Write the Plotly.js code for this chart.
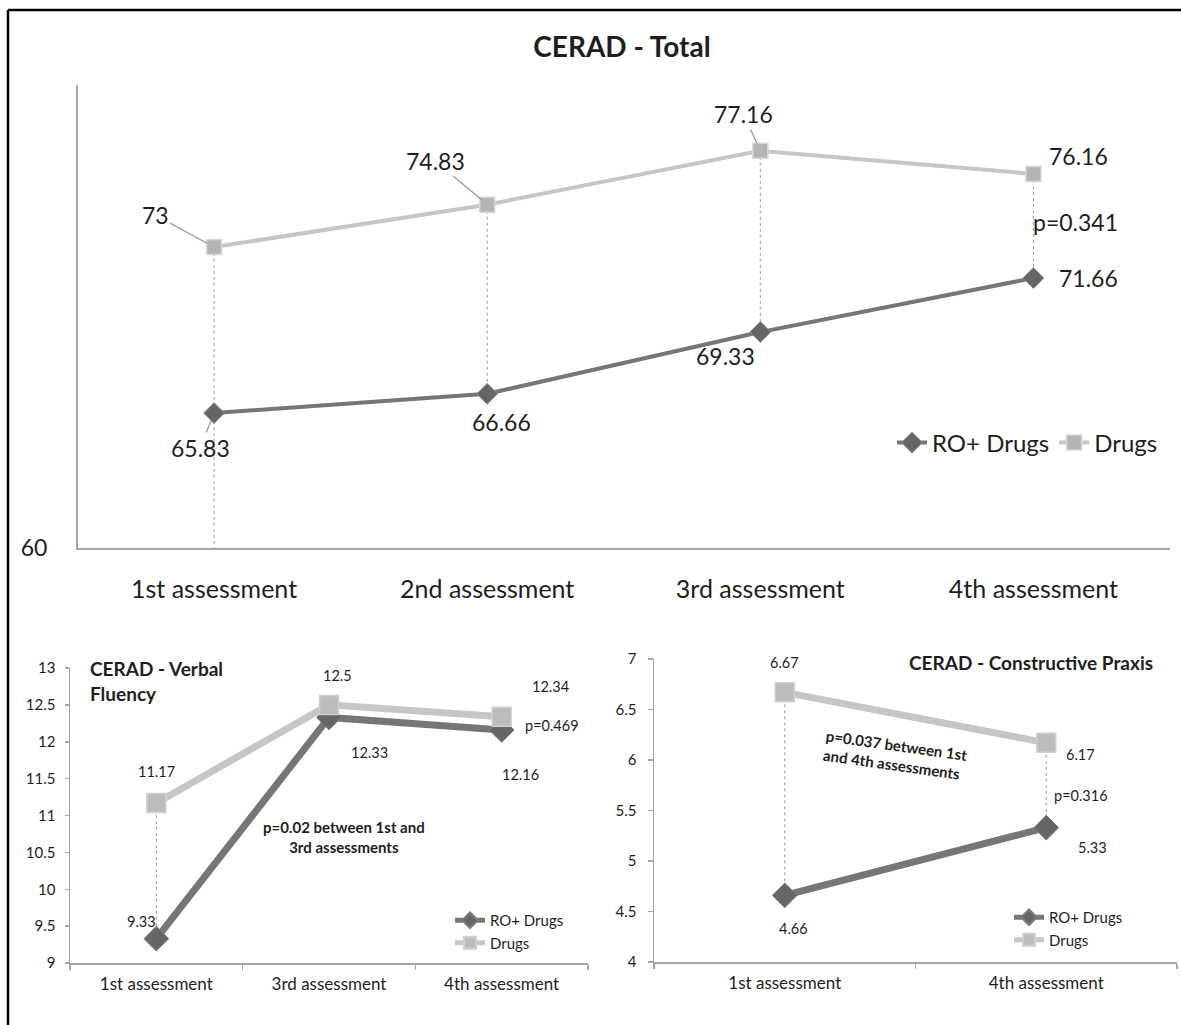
<!DOCTYPE html>
<html>
<head>
<meta charset="utf-8">
<script src="https://cdn.plot.ly/plotly-3.0.1.min.js"></script>
<style>
  html, body { margin: 0; padding: 0; background: #ffffff; }
  #chart { width: 1181px; height: 1025px; }
</style>
</head>
<body>
<div id="chart"></div>
<script>
// ---------------- DATA ----------------
const seriesNames = ['RO+ Drugs', 'Drugs'];

const totalTitle = 'CERAD - Total';
const totalCats = ['1st assessment', '2nd assessment', '3rd assessment', '4th assessment'];
const totalRO = [65.83, 66.66, 69.33, 71.66];
const totalDrugs = [73, 74.83, 77.16, 76.16];
const totalP = 'p=0.341';
const totalYTicks = [60];

const vfTitle = 'CERAD - Verbal<br>Fluency';
const vfCats = ['1st assessment', '3rd assessment', '4th assessment'];
const vfRO = [9.33, 12.33, 12.16];
const vfDrugs = [11.17, 12.5, 12.34];
const vfP = 'p=0.469';
const vfNote = 'p=0.02 between 1st and<br>3rd assessments';

const cpTitle = 'CERAD - Constructive Praxis';
const cpCats = ['1st assessment', '4th assessment'];
const cpRO = [4.66, 5.33];
const cpDrugs = [6.67, 6.17];
const cpP = 'p=0.316';
const cpNote = 'p=0.037 between 1st<br>and 4th assessments';

// ---------------- STYLE / LAYOUT HELPERS ----------------
const W = 1181, H = 1025;
const FONT = 'Lato, "Open Sans", "Liberation Sans", sans-serif';
const TXT = '#1e1e1e';
const AXC = '#a6a6a6';
const dark = '#767676', darkMk = '#666666';
const light = '#c6c6c6', lightMk = '#b4b4b4';

const px = v => v / W;
const py = v => 1 - v / H;

// label pixel offsets (ax, ay) per point, and whether a leader line is drawn
const totalROOff = [[-14, 35, true], [14, 28, false], [-35, 24, false], [55, 0, false]];
const totalDrOff = [[-59, -32, true], [-52, -44, true], [-17, -37, true], [45, -18, false]];
const vfROOff = [[-15, -17], [40, 35], [19, 45]];
const vfDrOff = [[0, -31], [8, -29], [49, -30]];
const cpROOff = [[9, 33], [46, 20]];
const cpDrOff = [[0, -30], [34, 12]];

const fmt = v => String(v);

const traces = [];
const annotations = [];
const shapes = [];

function addLabels(cats, vals, offs, xr, yr, size, leader) {
  vals.forEach((v, i) => {
    const o = offs[i];
    const lead = leader && o[2];
    annotations.push({
      x: cats[i], y: v, xref: xr, yref: yr,
      text: fmt(v), showarrow: true,
      ax: o[0], ay: o[1], axref: 'pixel', ayref: 'pixel',
      arrowhead: 0, arrowwidth: lead ? 1.3 : 0.1,
      arrowcolor: lead ? '#9a9a9a' : 'rgba(0,0,0,0)',
      standoff: 8,
      font: { family: FONT, size: size, color: TXT }
    });
  });
}

function addDrops(cats, hi, lo, xr, yr, firstToBase, base) {
  cats.forEach((c, i) => {
    shapes.push({
      type: 'line', xref: xr, yref: yr,
      x0: c, x1: c,
      y0: hi[i], y1: (firstToBase && i === 0) ? base : lo[i],
      line: { color: '#9b9b9b', width: 1, dash: 'dot' },
      layer: 'below'
    });
  });
}

// ---------------- TOP CHART ----------------
traces.push({
  type: 'scatter', mode: 'lines+markers', name: seriesNames[0],
  x: totalCats, y: totalRO, xaxis: 'x', yaxis: 'y',
  line: { color: dark, width: 4 },
  marker: { symbol: 'diamond', size: 16, color: darkMk, line: { color: '#8a8a8a', width: 1 } },
  legend: 'legend', legendgroup: 'a'
});
traces.push({
  type: 'scatter', mode: 'lines+markers', name: seriesNames[1],
  x: totalCats, y: totalDrugs, xaxis: 'x', yaxis: 'y',
  line: { color: light, width: 4 },
  marker: { symbol: 'square', size: 15, color: lightMk, line: { color: '#d8d8d8', width: 1.5 } },
  legend: 'legend', legendgroup: 'b'
});
addDrops(totalCats, totalDrugs, totalRO, 'x', 'y', true, 60);
addLabels(totalCats, totalRO, totalROOff, 'x', 'y', 23, true);
addLabels(totalCats, totalDrugs, totalDrOff, 'x', 'y', 23, true);
annotations.push({
  x: totalCats[3], y: (totalDrugs[3] + totalRO[3]) / 2, xref: 'x', yref: 'y',
  text: totalP, showarrow: false, xanchor: 'left', yanchor: 'middle', xshift: -2, yshift: 4,
  font: { family: FONT, size: 23, color: TXT }
});

// ---------------- BOTTOM LEFT ----------------
traces.push({
  type: 'scatter', mode: 'lines+markers', name: seriesNames[0],
  x: vfCats, y: vfRO, xaxis: 'x2', yaxis: 'y2',
  line: { color: dark, width: 7 },
  marker: { symbol: 'diamond', size: 19, color: darkMk, line: { color: '#7a7a7a', width: 1 } },
  legend: 'legend2', legendgroup: 'c'
});
traces.push({
  type: 'scatter', mode: 'lines+markers', name: seriesNames[1],
  x: vfCats, y: vfDrugs, xaxis: 'x2', yaxis: 'y2',
  line: { color: light, width: 7 },
  marker: { symbol: 'square', size: 19, color: '#bcbcbc', line: { color: '#d0d0d0', width: 1.5 } },
  legend: 'legend2', legendgroup: 'd'
});
addDrops(vfCats, vfDrugs, vfRO, 'x2', 'y2', false, 9);
addLabels(vfCats, vfRO, vfROOff, 'x2', 'y2', 14.5, false);
addLabels(vfCats, vfDrugs, vfDrOff, 'x2', 'y2', 14.5, false);
annotations.push({
  x: vfCats[2], y: (vfDrugs[2] + vfRO[2]) / 2, xref: 'x2', yref: 'y2',
  text: vfP, showarrow: false, xanchor: 'left', yanchor: 'middle', xshift: 21, yshift: -2,
  font: { family: FONT, size: 14.5, color: TXT }
});
annotations.push({
  x: px(344), y: py(837), xref: 'paper', yref: 'paper',
  xanchor: 'center', yanchor: 'middle',
  text: '<b>' + vfNote + '</b>', showarrow: false, align: 'center',
  font: { family: FONT, size: 15, color: TXT }
});
annotations.push({
  x: px(88), y: py(681), xref: 'paper', yref: 'paper',
  text: '<b>' + vfTitle + '</b>', showarrow: false, align: 'left',
  xanchor: 'left', yanchor: 'middle',
  font: { family: FONT, size: 19, color: TXT }
});

// ---------------- BOTTOM RIGHT ----------------
traces.push({
  type: 'scatter', mode: 'lines+markers', name: seriesNames[0],
  x: cpCats, y: cpRO, xaxis: 'x3', yaxis: 'y3',
  line: { color: dark, width: 7 },
  marker: { symbol: 'diamond', size: 19, color: darkMk, line: { color: '#7a7a7a', width: 1 } },
  legend: 'legend3', legendgroup: 'e'
});
traces.push({
  type: 'scatter', mode: 'lines+markers', name: seriesNames[1],
  x: cpCats, y: cpDrugs, xaxis: 'x3', yaxis: 'y3',
  line: { color: light, width: 7 },
  marker: { symbol: 'square', size: 19, color: '#bcbcbc', line: { color: '#d0d0d0', width: 1.5 } },
  legend: 'legend3', legendgroup: 'f'
});
addDrops(cpCats, cpDrugs, cpRO, 'x3', 'y3', false, 4);
addLabels(cpCats, cpRO, cpROOff, 'x3', 'y3', 14.5, false);
addLabels(cpCats, cpDrugs, cpDrOff, 'x3', 'y3', 14.5, false);
annotations.push({
  x: cpCats[1], y: (cpDrugs[1] + cpRO[1]) / 2, xref: 'x3', yref: 'y3',
  text: cpP, showarrow: false, xanchor: 'left', yanchor: 'middle', xshift: 6, yshift: -10,
  font: { family: FONT, size: 14.5, color: TXT }
});
annotations.push({
  x: px(895), y: py(755), xref: 'paper', yref: 'paper',
  xanchor: 'center', yanchor: 'middle',
  text: '<b>' + cpNote + '</b>', showarrow: false, align: 'left', textangle: 8,
  font: { family: FONT, size: 15, color: TXT }
});
annotations.push({
  x: px(1155), y: py(662), xref: 'paper', yref: 'paper',
  text: '<b>' + cpTitle + '</b>', showarrow: false, xanchor: 'right', yanchor: 'middle',
  font: { family: FONT, size: 19, color: TXT }
});

// ---------------- OUTER FRAME ----------------
shapes.push({ type: 'line', xref: 'paper', yref: 'paper', x0: px(8), x1: px(8), y0: py(10), y1: 0,
  line: { color: '#000', width: 2.5 } });
shapes.push({ type: 'line', xref: 'paper', yref: 'paper', x0: px(8), x1: 1, y0: py(10), y1: py(10),
  line: { color: '#000', width: 2.5 } });

// ---------------- AXES ----------------
const baseFont = (s) => ({ family: FONT, size: s, color: TXT });

const layout = {
  width: W, height: H,
  margin: { l: 0, r: 0, t: 0, b: 0 },
  paper_bgcolor: '#ffffff', plot_bgcolor: 'rgba(0,0,0,0)',
  font: { family: FONT, color: TXT },
  title: {
    text: '<b>' + totalTitle + '</b>',
    x: px(622), xanchor: 'center', y: py(47), yanchor: 'middle',
    xref: 'paper', yref: 'paper',
    font: { family: FONT, size: 28, color: TXT }
  },
  xaxis: {
    domain: [px(77.5), px(1170)], anchor: 'y', type: 'category',
    range: [-0.5, totalCats.length - 0.5],
    showline: true, linecolor: AXC, linewidth: 1.5,
    showgrid: false, zeroline: false, ticks: '',
    ticklabelstandoff: 18,
    tickfont: baseFont(25), fixedrange: true
  },
  yaxis: {
    domain: [py(548), py(85)], anchor: 'x',
    range: [60, 80], tickvals: totalYTicks,
    showline: true, linecolor: AXC, linewidth: 1.5,
    showgrid: false, zeroline: false, ticks: '',
    ticklabelstandoff: 24,
    tickfont: baseFont(23), fixedrange: true
  },
  xaxis2: {
    domain: [px(70), px(588)], anchor: 'y2', type: 'category',
    range: [-0.5, vfCats.length - 0.5],
    showline: true, linecolor: AXC, linewidth: 1.5,
    showgrid: false, zeroline: false,
    ticks: 'outside', tickson: 'boundaries', ticklen: 5, tickcolor: AXC, tickwidth: 1.5,
    ticklabelstandoff: 5,
    tickfont: baseFont(17), fixedrange: true
  },
  yaxis2: {
    domain: [py(963), py(668)], anchor: 'x2',
    range: [9, 13], dtick: 0.5, tick0: 9,
    showline: true, linecolor: AXC, linewidth: 1.5,
    showgrid: false, zeroline: false,
    ticks: 'outside', ticklen: 4, tickcolor: AXC, tickwidth: 1.5,
    ticklabelstandoff: 6,
    tickfont: baseFont(15), fixedrange: true
  },
  xaxis3: {
    domain: [px(654), px(1177)], anchor: 'y3', type: 'category',
    range: [-0.5, cpCats.length - 0.5],
    showline: true, linecolor: AXC, linewidth: 1.5,
    showgrid: false, zeroline: false,
    ticks: 'outside', tickson: 'boundaries', ticklen: 5, tickcolor: AXC, tickwidth: 1.5,
    ticklabelstandoff: 5,
    tickfont: baseFont(17), fixedrange: true
  },
  yaxis3: {
    domain: [py(962), py(659)], anchor: 'x3',
    range: [4, 7], dtick: 0.5, tick0: 4,
    showline: true, linecolor: AXC, linewidth: 1.5,
    showgrid: false, zeroline: false,
    ticks: 'outside', ticklen: 5, tickcolor: AXC, tickwidth: 1.5,
    ticklabelstandoff: 8,
    tickfont: baseFont(15), fixedrange: true
  },
  legend: {
    orientation: 'h', x: px(892), xanchor: 'left', y: py(443), yanchor: 'middle',
    font: baseFont(24), bgcolor: 'rgba(0,0,0,0)', itemsizing: 'trace',
    traceorder: 'normal', itemclick: false
  },
  legend2: {
    orientation: 'v', x: px(450), xanchor: 'left', y: py(904), yanchor: 'top',
    font: baseFont(15), bgcolor: 'rgba(0,0,0,0)', itemsizing: 'constant',
    tracegroupgap: 3, traceorder: 'normal', itemclick: false
  },
  legend3: {
    orientation: 'v', x: px(1009), xanchor: 'left', y: py(901), yanchor: 'top',
    font: baseFont(15), bgcolor: 'rgba(0,0,0,0)', itemsizing: 'constant',
    tracegroupgap: 1, traceorder: 'normal', itemclick: false
  },
  showlegend: true,
  annotations: annotations,
  shapes: shapes
};

Plotly.newPlot('chart', traces, layout, { displayModeBar: false, staticPlot: true });
</script>
</body>
</html>
